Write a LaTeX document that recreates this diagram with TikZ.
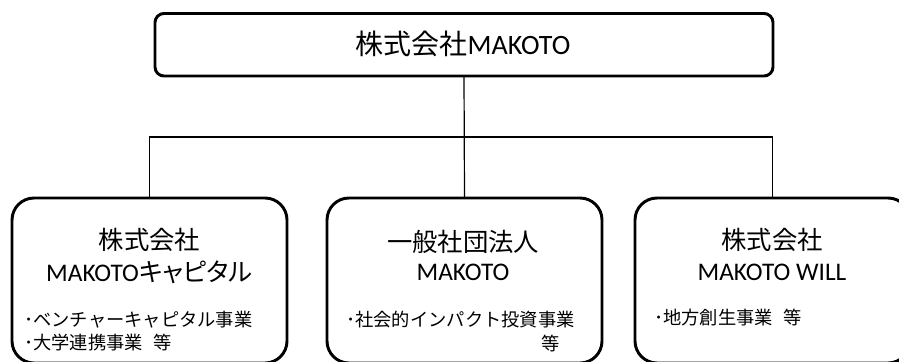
\documentclass[tikz,border=0pt]{standalone}
\usepackage{fontspec}
\setmainfont{Carlito}
\newfontfamily\jp{Noto Sans CJK JP}
\newfontfamily\jpp{Noto Sans CJK JP}[RawFeature=+palt]
\begin{document}
\begin{tikzpicture}[x=0.75pt,y=-0.75pt,
  topbox/.style={draw=black,line width=2.2pt,rounded corners=6.75pt,minimum width=463.5pt,minimum height=46.9pt,inner sep=0pt,outer sep=0pt},
  subbox/.style={draw=black,line width=2.2pt,rounded corners=16.5pt,minimum width=206.25pt,minimum height=123.75pt,inner sep=0pt,outer sep=0pt},
  conn/.style={draw=black,line width=0.9pt},
  toptext/.style={inner sep=0pt,font=\fontsize{21}{25}\selectfont},
  title/.style={inner sep=0pt,font=\fontsize{19}{23}\selectfont},
  bullet/.style={inner sep=0pt,anchor=west,font=\fontsize{13.7}{17}\selectfont\jp}]
\useasboundingbox (0,0) rectangle (899,361);
\clip (0,0) rectangle (899,361);
\fill[white] (0,0) rectangle (899,361);
% boxes
\node[topbox] (top) at (464,44.75) {};
\node[subbox] (left) at (149.5,280.5) {};
\node[subbox] (mid) at (464.5,280.5) {};
\node[subbox] (right) at (772.5,280.5) {};
% connectors
\coordinate (hub) at (464,137);
\draw[conn] (top.south) -- (mid.north);
\draw[conn] (left.north) |- (hub) -| (right.north);
% texts
\node[toptext] (ttop) at (463,44) {{\jp 株式会社}MAKOTO};
\node[title] (l1) at (149.5,240) {\jp 株式会社};
\node[title] (l2) at (149.5,272) {MAKOTO{\jpp キャピタル}};
\node[bullet] (l3) at (24,320) {･ベンチャーキャピタル事業};
\node[bullet] (l4) at (24,343) {･大学連携事業\hspace{0.6em}等};
\node[title] (m1) at (463,242) {\jp 一般社団法人};
\node[title] (m2) at (463,272) {MAKOTO};
\node[bullet] (m3) at (346,320) {･社会的インパクト投資事業};
\node[inner sep=0pt,anchor=east,font=\fontsize{13.7}{17}\selectfont\jp] (m4) at (560,343) {等};
\node[title] (r1) at (772,240) {\jp 株式会社};
\node[title] (r2) at (772,272) {MAKOTO WILL};
\node[bullet] (r3) at (654,318) {･地方創生事業\hspace{0.6em}等};
\end{tikzpicture}
\end{document}
